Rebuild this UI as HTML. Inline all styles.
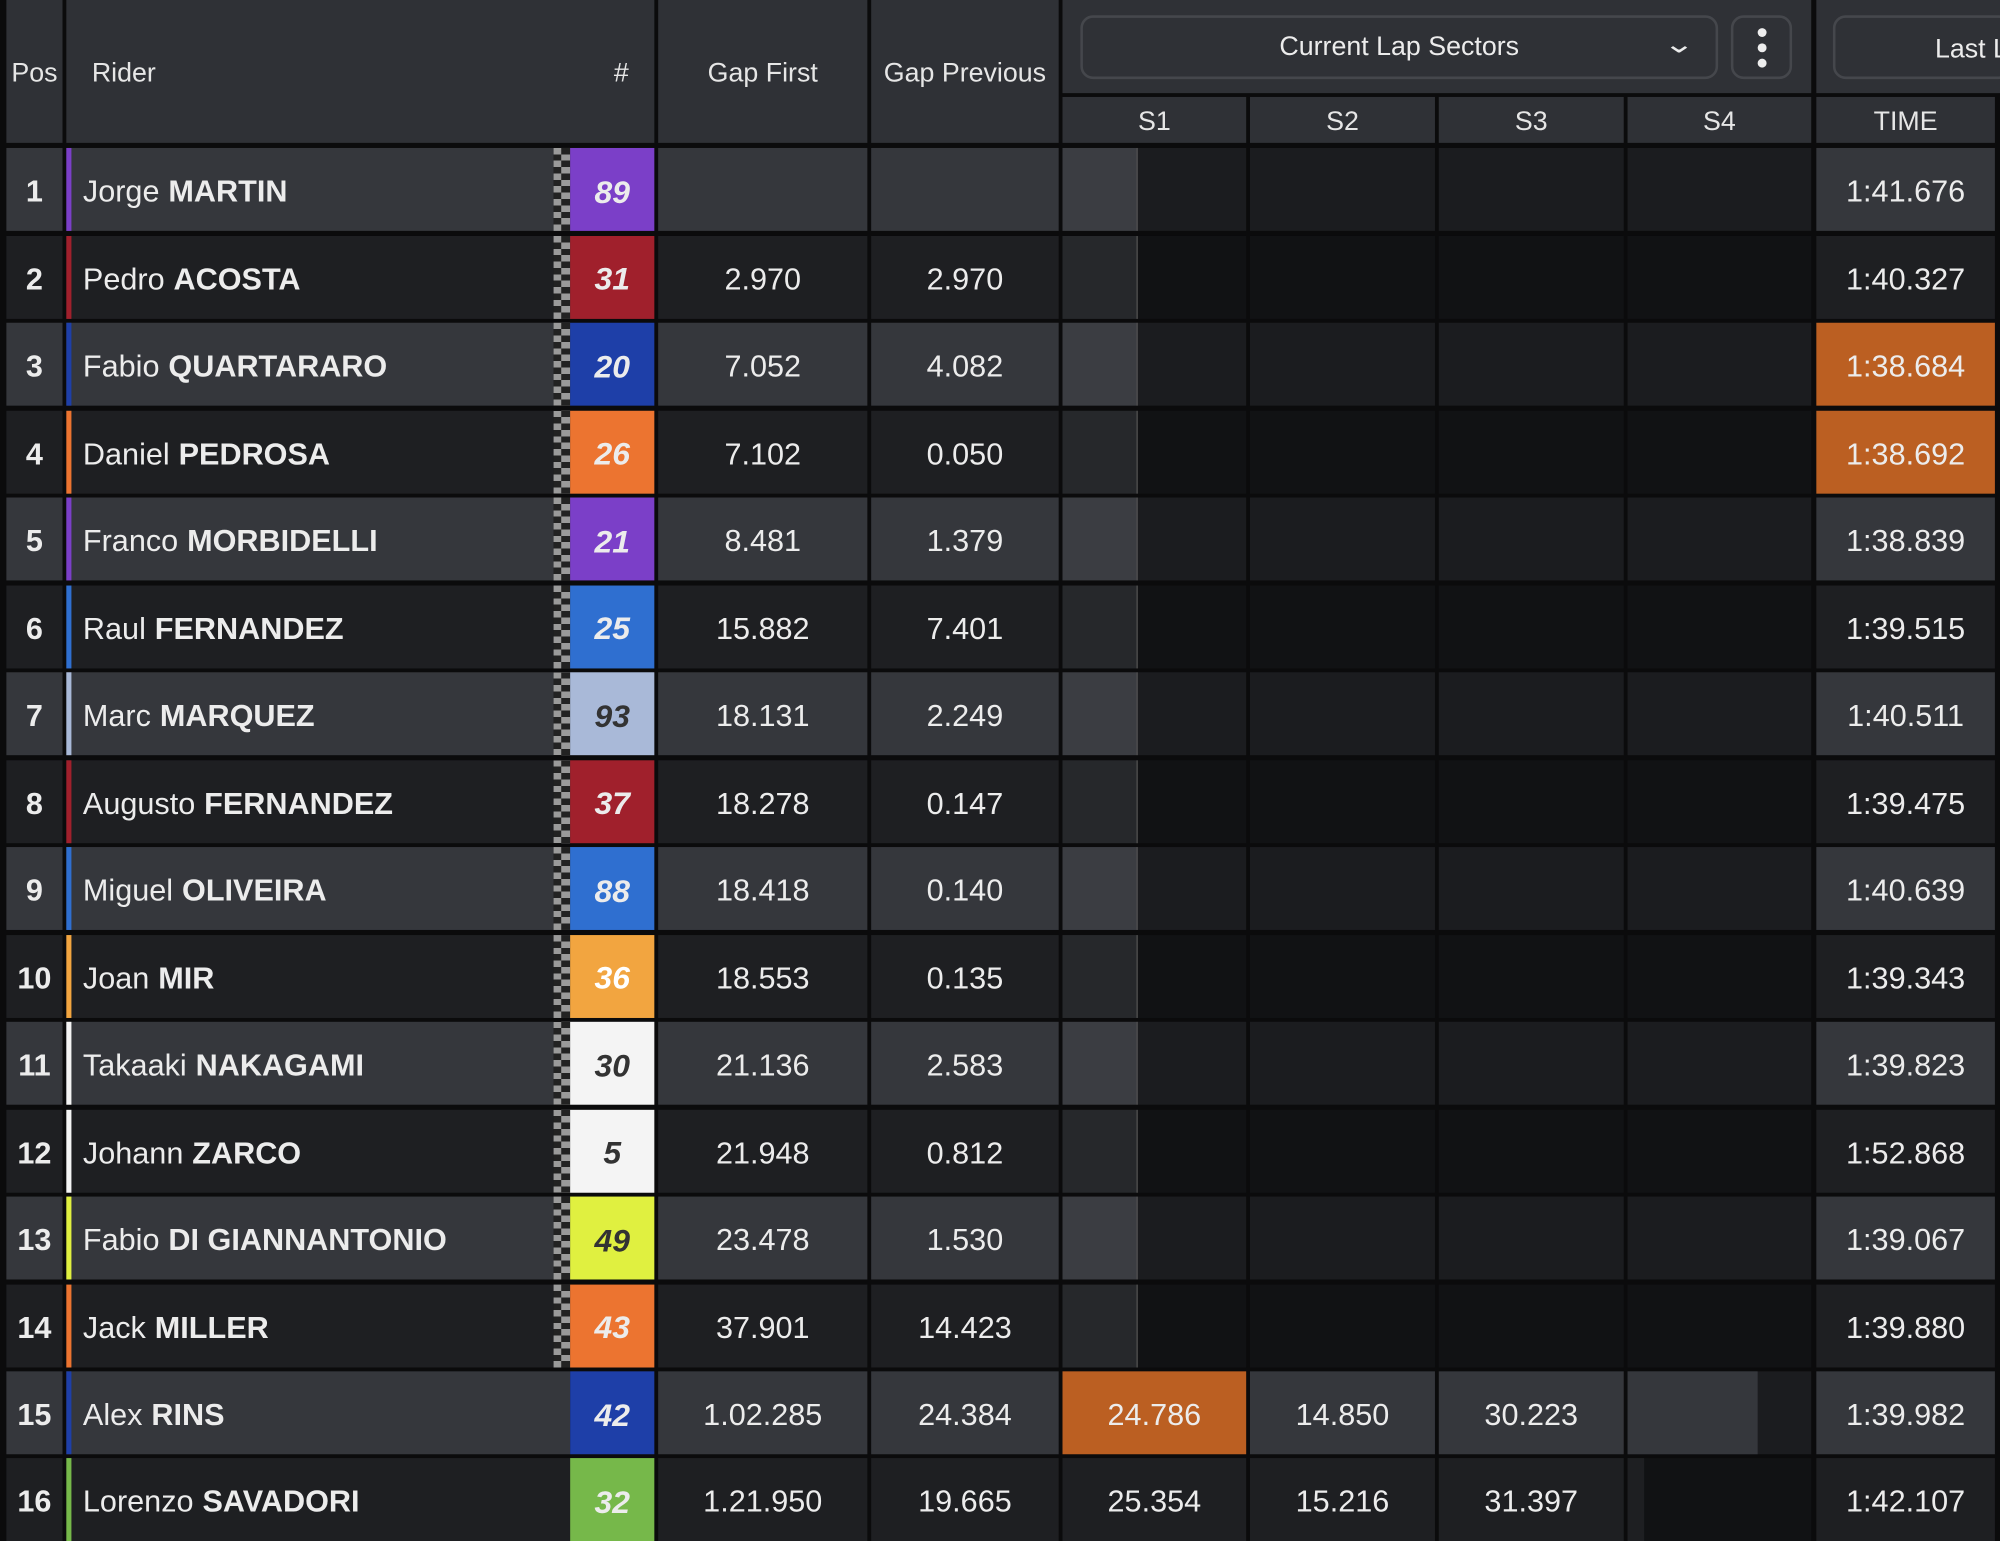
<!DOCTYPE html>
<html><head><meta charset="utf-8"><style>
*{margin:0;padding:0;box-sizing:border-box}
html,body{width:2000px;height:1541px;overflow:hidden;background:#0b0b0c}
#w{position:absolute;left:0;top:0;width:1568px;height:1208px;transform:scale(1.27551,1.27566);transform-origin:0 0;font-family:"Liberation Sans",sans-serif;color:#ececec}
.h{position:absolute;background:#2f3136;display:flex;align-items:center;justify-content:center;font-size:21px;color:#e6e6e6;padding-top:4px}
.r{position:absolute;left:0;width:1568px;height:65px}
.r div{position:absolute;top:0;height:65px;display:flex;align-items:center;justify-content:center;font-size:24px;padding-top:5px}
.o .c{background:#35373c}.e .c{background:#1e1f22}
.o .d{background:#1b1c1f}.e .d{background:#111214}
.o .l{background:#3b3d42}.e .l{background:#26282b}
.p{left:5px;width:44px;font-weight:bold}
.n{left:52px;width:382px;justify-content:flex-start!important;padding-left:9px;border-left:4px solid}
.n b{margin-left:7px}
.k{left:434px;width:13px;background-image:repeating-linear-gradient(0deg,#9a9a9a 0 5px,#222 5px 10px)}
.k:after{content:"";position:absolute;left:6px;top:0;width:7px;height:65px;background-image:repeating-linear-gradient(0deg,#222 0 5px,#9a9a9a 5px 10px)}
.m{left:447px;width:66px;font-weight:bold;font-style:italic;font-size:25px!important}
.g1{left:516px;width:164px}.g2{left:683px;width:147px}
.s1a{left:833px;width:58px}.s1b{left:891px;width:86px;border-left:1px solid #555}
.s1{left:833px;width:144px}.s2{left:980px;width:145px}.s3{left:1128px;width:145px}.s4{left:1276px;width:144px}
.t{left:1424px;width:140px}
.or{background:#bb5f22!important}
</style></head><body><div id="w">
<div class="h" style="left:5px;top:0;width:44px;height:112px">Pos</div>
<div class="h" style="left:52px;top:0;width:461px;height:112px;justify-content:space-between;padding:4px 20px 0"><span>Rider</span><span>#</span></div>
<div class="h" style="left:516px;top:0;width:164px;height:112px">Gap First</div>
<div class="h" style="left:683px;top:0;width:147px;height:112px">Gap Previous</div>
<div class="h" style="left:833px;top:0;width:587px;height:73px"></div>
<div class="h" style="left:1424px;top:0;width:144px;height:73px"></div>
<div style="position:absolute;left:847px;top:12px;width:500px;height:50px;border:2px solid #45474c;border-radius:10px;display:flex;align-items:center;justify-content:center;font-size:21px">Current Lap Sectors<span style="position:absolute;right:20px;top:8px;font-size:20px;transform:scaleX(1.5)">&#8964;</span></div>
<div style="position:absolute;left:1357px;top:12px;width:48px;height:50px;border:2px solid #45474c;border-radius:10px"><i style="position:absolute;left:19px;top:8px;width:7px;height:7px;border-radius:50%;background:#eee"></i><i style="position:absolute;left:19px;top:20px;width:7px;height:7px;border-radius:50%;background:#eee"></i><i style="position:absolute;left:19px;top:32px;width:7px;height:7px;border-radius:50%;background:#eee"></i></div>
<div style="position:absolute;left:1437px;top:12px;width:140px;height:50px;border:2px solid #45474c;border-radius:10px;font-size:21px;padding:13px 0 0 78px;white-space:nowrap">Last La</div>
<div class="h" style="left:833px;top:76px;width:144px;height:36px">S1</div>
<div class="h" style="left:980px;top:76px;width:145px;height:36px">S2</div>
<div class="h" style="left:1128px;top:76px;width:145px;height:36px">S3</div>
<div class="h" style="left:1276px;top:76px;width:144px;height:36px">S4</div>
<div class="h" style="left:1424px;top:76px;width:140px;height:36px">TIME</div>

<div class="r o" style="top:116px"><div class="p c">1</div><div class="n c" style="border-color:#7b3fc8">Jorge<b>MARTIN</b></div><div class="k"></div><div class="m" style="background:#7b3fc8">89</div><div class="g1 c"></div><div class="g2 c"></div><div class="s1a l"></div><div class="s1b d"></div><div class="s2 d"></div><div class="s3 d"></div><div class="s4 d"></div><div class="t c">1:41.676</div></div>
<div class="r e" style="top:184.5px"><div class="p c">2</div><div class="n c" style="border-color:#a0202c">Pedro<b>ACOSTA</b></div><div class="k"></div><div class="m" style="background:#a0202c">31</div><div class="g1 c">2.970</div><div class="g2 c">2.970</div><div class="s1a l"></div><div class="s1b d"></div><div class="s2 d"></div><div class="s3 d"></div><div class="s4 d"></div><div class="t c">1:40.327</div></div>
<div class="r o" style="top:253px"><div class="p c">3</div><div class="n c" style="border-color:#1e3fa8">Fabio<b>QUARTARARO</b></div><div class="k"></div><div class="m" style="background:#1e3fa8">20</div><div class="g1 c">7.052</div><div class="g2 c">4.082</div><div class="s1a l"></div><div class="s1b d"></div><div class="s2 d"></div><div class="s3 d"></div><div class="s4 d"></div><div class="t c or">1:38.684</div></div>
<div class="r e" style="top:321.5px"><div class="p c">4</div><div class="n c" style="border-color:#ec7430">Daniel<b>PEDROSA</b></div><div class="k"></div><div class="m" style="background:#ec7430">26</div><div class="g1 c">7.102</div><div class="g2 c">0.050</div><div class="s1a l"></div><div class="s1b d"></div><div class="s2 d"></div><div class="s3 d"></div><div class="s4 d"></div><div class="t c or">1:38.692</div></div>
<div class="r o" style="top:390px"><div class="p c">5</div><div class="n c" style="border-color:#7b3fc8">Franco<b>MORBIDELLI</b></div><div class="k"></div><div class="m" style="background:#7b3fc8">21</div><div class="g1 c">8.481</div><div class="g2 c">1.379</div><div class="s1a l"></div><div class="s1b d"></div><div class="s2 d"></div><div class="s3 d"></div><div class="s4 d"></div><div class="t c">1:38.839</div></div>
<div class="r e" style="top:458.5px"><div class="p c">6</div><div class="n c" style="border-color:#2f6fd0">Raul<b>FERNANDEZ</b></div><div class="k"></div><div class="m" style="background:#2f6fd0">25</div><div class="g1 c">15.882</div><div class="g2 c">7.401</div><div class="s1a l"></div><div class="s1b d"></div><div class="s2 d"></div><div class="s3 d"></div><div class="s4 d"></div><div class="t c">1:39.515</div></div>
<div class="r o" style="top:527px"><div class="p c">7</div><div class="n c" style="border-color:#a9b9d8">Marc<b>MARQUEZ</b></div><div class="k"></div><div class="m" style="background:#a9b9d8;color:#333">93</div><div class="g1 c">18.131</div><div class="g2 c">2.249</div><div class="s1a l"></div><div class="s1b d"></div><div class="s2 d"></div><div class="s3 d"></div><div class="s4 d"></div><div class="t c">1:40.511</div></div>
<div class="r e" style="top:595.5px"><div class="p c">8</div><div class="n c" style="border-color:#a0202c">Augusto<b>FERNANDEZ</b></div><div class="k"></div><div class="m" style="background:#a0202c">37</div><div class="g1 c">18.278</div><div class="g2 c">0.147</div><div class="s1a l"></div><div class="s1b d"></div><div class="s2 d"></div><div class="s3 d"></div><div class="s4 d"></div><div class="t c">1:39.475</div></div>
<div class="r o" style="top:664px"><div class="p c">9</div><div class="n c" style="border-color:#2f6fd0">Miguel<b>OLIVEIRA</b></div><div class="k"></div><div class="m" style="background:#2f6fd0">88</div><div class="g1 c">18.418</div><div class="g2 c">0.140</div><div class="s1a l"></div><div class="s1b d"></div><div class="s2 d"></div><div class="s3 d"></div><div class="s4 d"></div><div class="t c">1:40.639</div></div>
<div class="r e" style="top:732.5px"><div class="p c">10</div><div class="n c" style="border-color:#f2a540">Joan<b>MIR</b></div><div class="k"></div><div class="m" style="background:#f2a540;color:#fff">36</div><div class="g1 c">18.553</div><div class="g2 c">0.135</div><div class="s1a l"></div><div class="s1b d"></div><div class="s2 d"></div><div class="s3 d"></div><div class="s4 d"></div><div class="t c">1:39.343</div></div>
<div class="r o" style="top:801px"><div class="p c">11</div><div class="n c" style="border-color:#f4f4f4">Takaaki<b>NAKAGAMI</b></div><div class="k"></div><div class="m" style="background:#f4f4f4;color:#333">30</div><div class="g1 c">21.136</div><div class="g2 c">2.583</div><div class="s1a l"></div><div class="s1b d"></div><div class="s2 d"></div><div class="s3 d"></div><div class="s4 d"></div><div class="t c">1:39.823</div></div>
<div class="r e" style="top:869.5px"><div class="p c">12</div><div class="n c" style="border-color:#f4f4f4">Johann<b>ZARCO</b></div><div class="k"></div><div class="m" style="background:#f4f4f4;color:#333">5</div><div class="g1 c">21.948</div><div class="g2 c">0.812</div><div class="s1a l"></div><div class="s1b d"></div><div class="s2 d"></div><div class="s3 d"></div><div class="s4 d"></div><div class="t c">1:52.868</div></div>
<div class="r o" style="top:938px"><div class="p c">13</div><div class="n c" style="border-color:#e0f040">Fabio<b>DI GIANNANTONIO</b></div><div class="k"></div><div class="m" style="background:#e0f040;color:#333">49</div><div class="g1 c">23.478</div><div class="g2 c">1.530</div><div class="s1a l"></div><div class="s1b d"></div><div class="s2 d"></div><div class="s3 d"></div><div class="s4 d"></div><div class="t c">1:39.067</div></div>
<div class="r e" style="top:1006.5px"><div class="p c">14</div><div class="n c" style="border-color:#ec7430">Jack<b>MILLER</b></div><div class="k"></div><div class="m" style="background:#ec7430">43</div><div class="g1 c">37.901</div><div class="g2 c">14.423</div><div class="s1a l"></div><div class="s1b d"></div><div class="s2 d"></div><div class="s3 d"></div><div class="s4 d"></div><div class="t c">1:39.880</div></div>
<div class="r o" style="top:1075px"><div class="p c">15</div><div class="n c" style="border-color:#1e3fa8;width:395px">Alex<b>RINS</b></div><div class="m" style="background:#1e3fa8">42</div><div class="g1 c">1.02.285</div><div class="g2 c">24.384</div><div class="s1 c or">24.786</div><div class="s2 c">14.850</div><div class="s3 c">30.223</div><div class="s4 d"></div><div class="c" style="left:1276px;width:102px"></div><div class="t c">1:39.982</div></div>
<div class="r e" style="top:1143px"><div class="p c">16</div><div class="n c" style="border-color:#76b84a;width:395px">Lorenzo<b>SAVADORI</b></div><div class="m" style="background:#76b84a">32</div><div class="g1 c">1.21.950</div><div class="g2 c">19.665</div><div class="s1 c">25.354</div><div class="s2 c">15.216</div><div class="s3 c">31.397</div><div class="s4 d" style="border-left:13px solid #1e1f22"></div><div class="t c">1:42.107</div></div>
</div></body></html>
